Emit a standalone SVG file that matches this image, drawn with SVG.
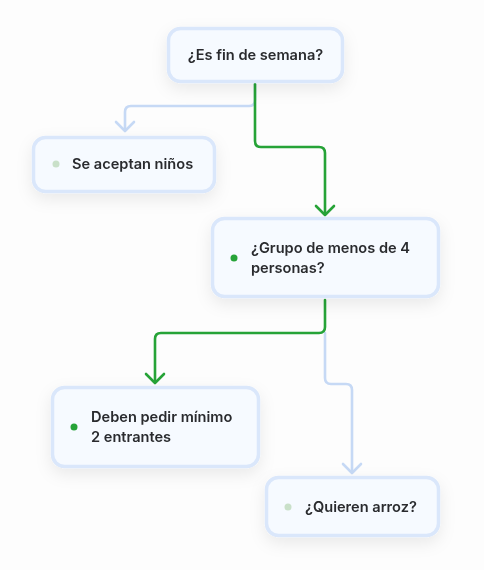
<svg xmlns="http://www.w3.org/2000/svg" width="484" height="570" viewBox="0 0 484 570">
  <defs>
    <filter id="sh" x="-30%" y="-40%" width="160%" height="190%">
      <feDropShadow dx="0" dy="6" stdDeviation="8" flood-color="#000" flood-opacity="0.08"/>
    </filter>
    <style>
      .box{fill:#f6faff;stroke:#dae7fb;stroke-width:3.5}
      .t{font-family:Inter,"Noto Sans","Liberation Sans",sans-serif;font-size:14.6px;font-weight:600;fill:#2a2c2f}
      .g{fill:none;stroke:#26a337;stroke-width:2.6;stroke-linecap:round;stroke-linejoin:round}
      .b{fill:none;stroke:#c6d9f5;stroke-width:2.6;stroke-linecap:round;stroke-linejoin:round}
      .dg{fill:#26a337}
      .dp{fill:#c9e0c9}
    </style>
  </defs>
  <rect width="484" height="570" fill="#fdfdfd"/>
  <g id="connectors">
    <path class="b" d="M255 84 V100 Q255 106 249 106 H131 Q125 106 125 112 V130"/>
    <path class="b" d="M116 122 L125 131 L134 122"/>
    <path class="g" d="M255 84 V141 Q255 147 261 147 H319 Q325 147 325 153 V214"/>
    <path class="g" d="M316 206 L325 215 L334 206"/>
    <path class="b" d="M325 333 V378 Q325 384 331 384 H346 Q352 384 352 390 V472"/>
    <path class="b" d="M343 464 L352 473 L361 464"/>
    <path class="g" d="M325 300 V327 Q325 333 319 333 H161 Q155 333 155 339 V382"/>
    <path class="g" d="M146 374 L155 383 L164 374"/>
  </g>
  <g id="n1" filter="url(#sh)">
    <rect class="box" x="168.5" y="28.5" width="174" height="53" rx="12"/>
    <text class="t" x="255.5" y="60" text-anchor="middle">¿Es fin de semana?</text>
  </g>
  <g id="n2" filter="url(#sh)">
    <rect class="box" x="33.5" y="137.5" width="181" height="54" rx="12"/>
    <circle class="dp" cx="56" cy="164" r="3.5"/>
    <text class="t" x="72" y="169">Se aceptan niños</text>
  </g>
  <g id="n3" filter="url(#sh)">
    <rect class="box" x="212.5" y="218.5" width="226" height="78" rx="12"/>
    <circle class="dg" cx="234" cy="258" r="3.5"/>
    <text class="t" x="251" y="253">¿Grupo de menos de 4</text>
    <text class="t" x="251" y="273">personas?</text>
  </g>
  <g id="n4" filter="url(#sh)">
    <rect class="box" x="52.5" y="387.5" width="206" height="79" rx="12"/>
    <circle class="dg" cx="74" cy="427" r="3.5"/>
    <text class="t" x="91" y="422">Deben pedir mínimo</text>
    <text class="t" x="91" y="442">2 entrantes</text>
  </g>
  <g id="n5" filter="url(#sh)">
    <rect class="box" x="266.5" y="477.5" width="172" height="58" rx="12"/>
    <circle class="dp" cx="288" cy="507" r="3.5"/>
    <text class="t" x="305" y="512">¿Quieren arroz?</text>
  </g>
</svg>
